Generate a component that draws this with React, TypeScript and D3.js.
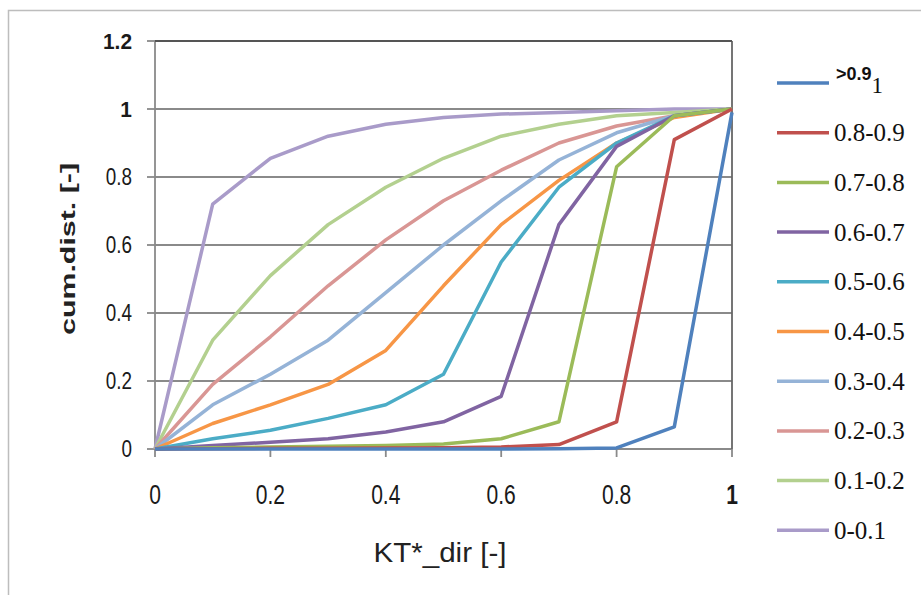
import React from 'react';
import * as d3 from 'd3';

// KT*_dir bins on the x axis
const xValues = [0, 0.1, 0.2, 0.3, 0.4, 0.5, 0.6, 0.7, 0.8, 0.9, 1];

const seriesNames = ['>0.9', '0.8-0.9', '0.7-0.8', '0.6-0.7', '0.5-0.6', '0.4-0.5', '0.3-0.4', '0.2-0.3', '0.1-0.2', '0-0.1'];

// cumulative distribution per class
const gt09 = [0, 0, 0, 0, 0, 0, 0, 0.001, 0.003, 0.065, 0.99];
const s0809 = [0, 0.001, 0.002, 0.002, 0.003, 0.004, 0.006, 0.013, 0.08, 0.91, 1];
const s0708 = [0, 0.004, 0.006, 0.008, 0.01, 0.015, 0.03, 0.08, 0.83, 0.98, 1];
const s0607 = [0, 0.01, 0.02, 0.03, 0.05, 0.08, 0.155, 0.66, 0.89, 0.98, 1];
const s0506 = [0, 0.03, 0.055, 0.09, 0.13, 0.22, 0.55, 0.77, 0.9, 0.98, 1];
const s0405 = [0, 0.075, 0.13, 0.19, 0.29, 0.48, 0.66, 0.79, 0.9, 0.975, 1];
const s0304 = [0, 0.13, 0.22, 0.32, 0.46, 0.6, 0.73, 0.85, 0.93, 0.98, 1];
const s0203 = [0, 0.19, 0.33, 0.48, 0.615, 0.73, 0.82, 0.9, 0.95, 0.98, 1];
const s0102 = [0, 0.32, 0.51, 0.66, 0.77, 0.855, 0.92, 0.955, 0.98, 0.99, 1];
const s001 = [0, 0.72, 0.855, 0.92, 0.955, 0.975, 0.985, 0.99, 0.995, 1, 1];

const seriesValues = [gt09, s0809, s0708, s0607, s0506, s0405, s0304, s0203, s0102, s001];

const colors = ['#4f81bd', '#c0504d', '#9bbb59', '#8064a2', '#4bacc6', '#f79646', '#95b3d7', '#d99694', '#b3d08f', '#a99bc9'];

const yTicks = [0, 0.2, 0.4, 0.6, 0.8, 1, 1.2];
const yTickLabels = ['0', '0.2', '0.4', '0.6', '0.8', '1', '1.2'];
const xTicks = [0, 0.2, 0.4, 0.6, 0.8, 1];
const xTickLabels = ['0', '0.2', '0.4', '0.6', '0.8', '1'];

const W = 921;
const H = 595;
const plot = { left: 155, right: 732, top: 41, bottom: 449 };
const serif = '"Liberation Serif", "DejaVu Serif", serif';
const sans = '"Liberation Sans", Arial, sans-serif';

export default function App() {
  const x = d3.scaleLinear().domain([0, 1]).range([plot.left, plot.right]);
  const y = d3.scaleLinear().domain([0, 1.2]).range([plot.bottom, plot.top]);

  const line = d3.line<number>()
    .x((_, i) => x(xValues[i]))
    .y(d => y(d));

  const legendX = 777;
  const legendY0 = 83;
  const legendStep = 49.7;

  return (
    <div style={{ position: 'fixed', left: 0, top: 0 }}>
      <svg width={W} height={H} style={{ display: 'block', background: '#fff' }}>
        {/* outer chart frame */}
        <rect x={8.5} y={10.5} width={W} height={H} fill="none" stroke="#bdbdbd" strokeWidth={1.5} />

        {/* grid */}
        {yTicks.map(t => (
          <line key={t} x1={plot.left} x2={plot.right} y1={y(t)} y2={y(t)}
            stroke="#8a8a8a" strokeWidth={1.8} />
        ))}
        <line x1={plot.left} x2={plot.left} y1={plot.top} y2={plot.bottom} stroke="#8a8a8a" strokeWidth={1.8} />
        <line x1={plot.right} x2={plot.right} y1={plot.top} y2={plot.bottom} stroke="#666" strokeWidth={1.8} />
        <line x1={plot.left} x2={plot.right} y1={plot.top} y2={plot.top} stroke="#555" strokeWidth={2} />

        {/* ticks */}
        {yTicks.map(t => (
          <line key={'yt' + t} x1={plot.left - 8} x2={plot.left} y1={y(t)} y2={y(t)} stroke="#8a8a8a" strokeWidth={1.8} />
        ))}
        {xTicks.map(t => (
          <line key={'xt' + t} x1={x(t)} x2={x(t)} y1={plot.bottom} y2={plot.bottom + 8} stroke="#8a8a8a" strokeWidth={1.8} />
        ))}

        {/* series */}
        {seriesValues.map((vals, i) => (
          <path key={seriesNames[i]} d={line(vals) || ''} fill="none" stroke={colors[i]}
            strokeWidth={3.5} strokeLinejoin="round" />
        )).reverse()}

        {/* tick labels */}
        {yTicks.map((t, i) => (
          <text key={'yl' + t} transform={`translate(${plot.left - 23},${y(t)}) scale(${i >= 5 ? 0.95 : 0.82},1)`} dy="0.36em" textAnchor="end"
            fontFamily={sans} fontSize={i >= 5 ? 22 : 23} fill="#1a1a1a"
            fontWeight={i >= 5 ? 'bold' : 'normal'}>{yTickLabels[i]}</text>
        ))}
        {xTicks.map((t, i) => (
          <text key={'xl' + t} transform={`translate(${x(t)},494) scale(0.78,1)`} dy="0.36em" textAnchor="middle"
            fontFamily={sans} fontSize={27} fill="#1a1a1a"
            fontWeight={i === xTicks.length - 1 ? 'bold' : 'normal'}>{xTickLabels[i]}</text>
        ))}

        {/* axis titles */}
        <text transform={`translate(68,249) rotate(-90)`} textAnchor="middle"
          dy="0.35em" fontFamily={sans} fontSize={21} fontWeight="bold" fill="#222"
          textLength={172} lengthAdjust="spacingAndGlyphs">cum.dist. [-]</text>
        <text x={440} y={553} dy="0.35em" textAnchor="middle" fontFamily={sans} fontSize={27} fill="#222"
          textLength={133} lengthAdjust="spacingAndGlyphs">KT*_dir [-]</text>

        {/* legend */}
        {seriesNames.map((name, i) => {
          const ly = legendY0 + i * legendStep;
          return (
            <g key={'lg' + name}>
              <line x1={legendX} x2={legendX + 52} y1={ly} y2={ly} stroke={colors[i]} strokeWidth={3.5} />
              {i === 0 ? (
                <text x={legendX + 59} y={ly - 3} fill="#111">
                  <tspan fontFamily={sans} fontWeight="bold" fontSize={18}>{name}</tspan>
                  <tspan fontFamily={serif} fontSize={23} dy={13}>1</tspan>
                </text>
              ) : (
                <text x={legendX + 57} y={ly} dy="0.34em" fontFamily={serif} fontSize={25} fill="#111">{name}</text>
              )}
            </g>
          );
        })}
      </svg>
    </div>
  );
}
